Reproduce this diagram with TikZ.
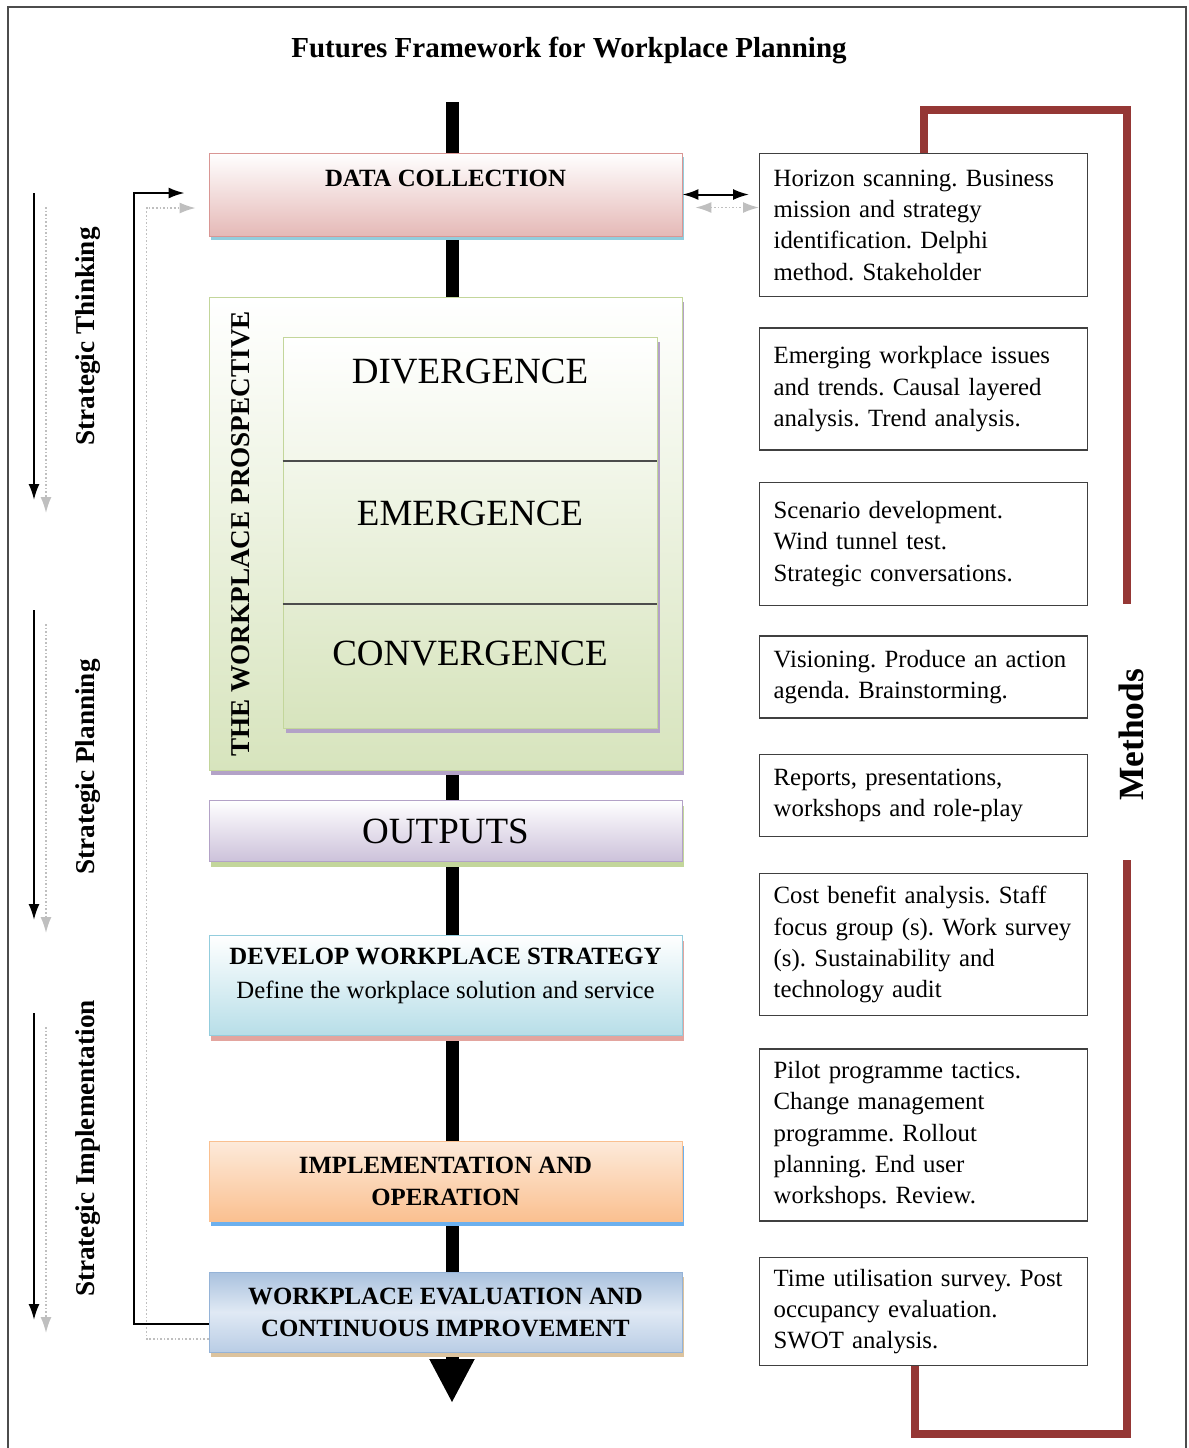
\documentclass[tikz,border=0pt]{standalone}
\usepackage{fontspec}
\setmainfont{Liberation Serif}
\usepackage{tikz}
\usetikzlibrary{arrows.meta, positioning, shadows, calc}
\hyphenpenalty=10000

\definecolor{pinkbot}{HTML}{E5B9B7}
\definecolor{pinkline}{HTML}{D99694}
\definecolor{cyanshade}{HTML}{93CDDD}
\definecolor{greenbot}{HTML}{D7E4BD}
\definecolor{greenline}{HTML}{C3D69B}
\definecolor{lilacbot}{HTML}{CCC1DA}
\definecolor{lilacline}{HTML}{B3A2C7}
\definecolor{bluebot}{HTML}{B7DEE8}
\definecolor{roseshade}{HTML}{E3A59F}
\definecolor{peachtop}{HTML}{FDEADA}
\definecolor{peachbot}{HTML}{FAC090}
\definecolor{skyshade}{HTML}{6CB0EE}
\definecolor{steeltop}{HTML}{A9C1DE}
\definecolor{steelmid}{HTML}{E0E9F4}
\definecolor{steelbot}{HTML}{B9CDE5}
\definecolor{steelline}{HTML}{95B3D7}
\definecolor{tanshade}{HTML}{DCC39E}
\definecolor{methodred}{HTML}{953735}

\tikzstyle{stage} = [rectangle, minimum width=236.5pt, inner sep=0pt, align=center, font=\fontsize{12.4}{16}\selectfont\bfseries]
\tikzstyle{method} = [rectangle, draw=black!75, line width=0.7pt, fill=white, text width=150pt, inner xsep=7pt, inner ysep=0pt, align=left, font=\fontsize{12.4}{15.6}\selectfont, anchor=north west]
\tikzstyle{phase} = [font=\fontsize{18.5}{20}\selectfont]
\tikzstyle{sidelabel} = [rotate=90, font=\fontsize{13.6}{16}\selectfont\bfseries]
\tikzstyle{arrow} = [line width=1pt, ->]
\tikzstyle{ghost} = [gray!50, densely dotted, line width=0.8pt]
\tikzstyle{bracket} = [methodred, line width=4pt]

\begin{document}
\frenchspacing
\begin{tikzpicture}[x=0.5pt, y=-0.5pt, >={Latex[length=8pt,width=5.5pt]}]
\useasboundingbox (0,0) rectangle (1189,1448);

% Frame and title
\draw [black!70, line width=0.75pt] (8,1448) -- (8,7) -- (1186,7) -- (1186,1448);
\node (title) at (569,50) [font=\fontsize{14.5}{17}\selectfont\bfseries] {Futures Framework for Workplace Planning};

% Main flow behind the stages
\coordinate (flowtop) at (452,102);
\coordinate (flowend) at (452,1403);
\draw [line width=6.5pt, -{Triangle[width=21pt,length=22pt]}] (flowtop) -- (flowend);

% Stages
\node (datacoll) [stage, minimum height=41.5pt, draw=pinkline, top color=white, bottom color=pinkbot,
  general shadow={fill=cyanshade, shadow xshift=1pt, shadow yshift=-2pt}] at (445.5,194.5) {};
\node (datalbl) [font=\fontsize{12.4}{16}\selectfont\bfseries] at ($(datacoll.north)+(0,26)$) {DATA COLLECTION};

\node (prospect) [stage, minimum height=236.5pt, draw=greenline, top color=white, bottom color=greenbot,
  general shadow={fill=lilacline, shadow xshift=1pt, shadow yshift=-2pt}, below=30.5pt of datacoll] {};
\node (phases) [rectangle, minimum width=187pt, minimum height=195.5pt, draw=greenline, top color=white, bottom color=greenbot,
  general shadow={fill=lilacline, shadow xshift=1.5pt, shadow yshift=-2.5pt}] at (470,532.5) {};
\coordinate (cut1) at (0,461);
\coordinate (cut2) at (0,604);
\draw [black!70, line width=0.8pt] (phases.west |- cut1) -- (phases.east |- cut1);
\draw [black!70, line width=0.8pt] (phases.west |- cut2) -- (phases.east |- cut2);
\node (diverge) [phase] at (470,372) {DIVERGENCE};
\node (emerge) [phase] at (470,513) {EMERGENCE};
\node (converge) [phase] at (470,654) {CONVERGENCE};
\node (prosplbl) [sidelabel, font=\fontsize{13.6}{16}\selectfont\bfseries] at (241,534) {THE WORKPLACE PROSPECTIVE};

\node (outputs) [stage, minimum height=30.5pt, draw=lilacline, top color=white, bottom color=lilacbot,
  general shadow={fill=greenline, shadow xshift=1pt, shadow yshift=-2.5pt}, below=14.5pt of prospect,
  font=\fontsize{18.5}{20}\selectfont] {OUTPUTS};

\node (develop) [stage, minimum height=50pt, draw=cyanshade, top color=white, bottom color=bluebot,
  general shadow={fill=roseshade, shadow xshift=1pt, shadow yshift=-3pt}, below=36.5pt of outputs] {};
\node (devlbl) [align=center, font=\fontsize{12.4}{17}\selectfont] at ($(develop.center)+(0,-9)$)
  {\textbf{DEVELOP WORKPLACE STRATEGY}\\Define the workplace solution and service};

\node (implement) [stage, minimum height=40pt, draw=peachbot, top color=peachtop, bottom color=peachbot,
  general shadow={fill=skyshade, shadow xshift=1pt, shadow yshift=-2.5pt}, below=52.5pt of develop]
  {IMPLEMENTATION AND\\OPERATION};

\node (evaluate) [stage, minimum height=40pt, draw=steelline, top color=steeltop, bottom color=steelbot, middle color=steelmid,
  general shadow={fill=tanshade, shadow xshift=1pt, shadow yshift=-2.5pt}, below=25pt of implement]
  {WORKPLACE EVALUATION AND\\CONTINUOUS IMPROVEMENT};

% Methods column
\node (m1) [method, minimum height=71.5pt] at (759,153) {Horizon scanning. Business\\mission and strategy\\identification. Delphi\\method. Stakeholder};
\node (m2) [method, minimum height=61pt, below=15pt of m1] {Emerging workplace issues\\and trends. Causal layered\\analysis. Trend analysis.};
\node (m3) [method, minimum height=61.5pt, below=15.5pt of m2] {Scenario development.\\Wind tunnel test.\\Strategic conversations.};
\node (m4) [method, minimum height=41pt, below=14.5pt of m3] {Visioning. Produce an action\\agenda. Brainstorming.};
\node (m5) [method, minimum height=41pt, below=17.5pt of m4] {Reports, presentations,\\workshops and role-play};
\node (m6) [method, minimum height=71pt, below=18pt of m5] {Cost benefit analysis. Staff\\focus group (s). Work survey\\(s). Sustainability and\\technology audit};
\node (m7) [method, minimum height=86pt, below=16pt of m6] {Pilot programme tactics.\\Change management\\programme. Rollout\\planning. End user\\workshops. Review.};
\node (m8) [method, minimum height=54pt, below=17.5pt of m7] {Time utilisation survey. Post\\occupancy evaluation.\\SWOT analysis.};

\node (methlbl) [rotate=90, font=\fontsize{17.7}{20}\selectfont\bfseries] at (1131,735) {Methods};
\coordinate (methtop) at (1127,604);
\coordinate (methbot) at (1127,860);
\draw [bracket] (m1.north) -- ++(0,-43) -| (methtop);
\draw [bracket] (methbot) -- ++(0,574) -| ([xshift=-4.5pt]m8.south);

% Links
\draw [ghost, <->] ($(datacoll.east)+(13,13)$) -- ($(datacoll.east -| m1.west)+(0,13)$);
\draw [arrow, <->] (datacoll.east) -- ($(datacoll.east -| m1.west)+(-10,0)$);
\draw [ghost, ->] ([yshift=-13.5pt]evaluate.west) -- ++(-62,0) |- ($(datacoll.west)+(-13,13.5)$);
\draw [arrow] ([yshift=-6pt]evaluate.west) -- ++(-75,0) |- ($(datacoll.west)+(-24,-1.5)$);

% Strategic phases on the left
\coordinate (think1) at (34,193);
\coordinate (think2) at (34,500);
\coordinate (plan1) at (34,610);
\coordinate (plan2) at (34,920);
\coordinate (impl1) at (34,1013);
\coordinate (impl2) at (34,1320);
\draw [ghost, ->] ($(think1)+(12,14)$) -- ($(think2)+(12,13)$);
\draw [ghost, ->] ($(plan1)+(12,14)$) -- ($(plan2)+(12,13)$);
\draw [ghost, ->] ($(impl1)+(12,14)$) -- ($(impl2)+(12,13)$);
\draw [arrow] (think1) -- (think2);
\draw [arrow] (plan1) -- (plan2);
\draw [arrow] (impl1) -- (impl2);
\node (thinklbl) [sidelabel] at (88,336.5) {Strategic Thinking};
\node (planlbl) [sidelabel] at (88,767) {Strategic Planning};
\node (impllbl) [sidelabel] at (88,1148.5) {Strategic Implementation};

\end{tikzpicture}
\end{document}
